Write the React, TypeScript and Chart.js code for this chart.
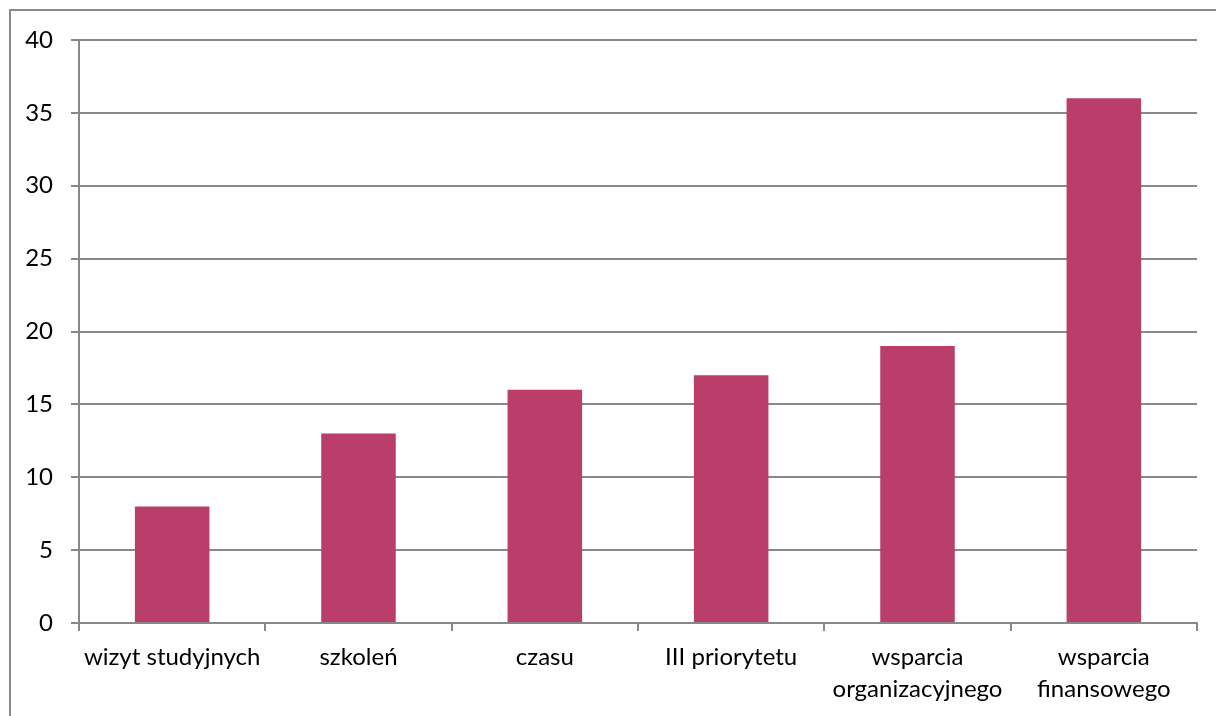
import React, { useEffect, useRef } from "react";
import { Chart, registerables } from "chart.js";

Chart.register(...registerables);

const categories: (string | string[])[] = [
  "wizyt studyjnych",
  "szkoleń",
  "czasu",
  "III priorytetu",
  ["wsparcia", "organizacyjnego"],
  ["wsparcia", "finansowego"],
];
const values = [8, 13, 16, 17, 19, 36];
const yMin = 0;
const yMax = 40;
const yStep = 5;

const BAR = "#BB3E6A";
const GRID = "#888888";
const FONT = "Lato, 'Open Sans', sans-serif";

export default function App() {
  const ref = useRef<HTMLCanvasElement | null>(null);
  useEffect(() => {
    if (!ref.current) return;
    const chart = new Chart(ref.current, {
      type: "bar",
      data: {
        labels: categories,
        datasets: [
          {
            data: values,
            backgroundColor: BAR,
            borderWidth: 0,
            categoryPercentage: 1,
            barPercentage: 0.4,
          },
        ],
      },
      options: {
        animation: false,
        responsive: false,
        maintainAspectRatio: false,
        layout: { padding: { top: 40, right: 19, bottom: 0, left: 0 } },
        plugins: { legend: { display: false }, tooltip: { enabled: false } },
        scales: {
          x: {
            grid: {
              offset: true,
              drawOnChartArea: false,
              drawTicks: true,
              tickLength: 8,
              color: GRID,
              lineWidth: 2,
            },
            border: { display: true, color: GRID, width: 2 },
            ticks: {
              color: "#000",
              font: { family: FONT, size: 24, lineHeight: 1.3 },
              padding: 11,
              maxRotation: 0,
              autoSkip: false,
            },
            afterFit: (s: any) => {
              s.height = 93;
            },
          },
          y: {
            min: yMin,
            max: yMax,
            grid: {
              color: GRID,
              lineWidth: 2,
              drawTicks: true,
              tickLength: 8,
            },
            border: { display: true, color: GRID, width: 2 },
            ticks: {
              stepSize: yStep,
              color: "#000",
              font: { family: FONT, size: 24 },
              padding: 18,
            },
            afterFit: (s: any) => {
              s.width = 79;
            },
          },
        },
      },
    });
    return () => chart.destroy();
  }, []);
  return (
    <div style={{ position: "absolute", left: 0, top: 0, width: 1216, height: 716, overflow: "hidden", background: "#fff" }}>
      <div
        style={{
          position: "absolute",
          left: 9,
          top: 9,
          width: 1400,
          height: 900,
          borderLeft: "2px solid #8a8a8a",
          borderTop: "2px solid #8a8a8a",
        }}
      />
      <canvas ref={ref} width={1216} height={716} style={{ position: "absolute", left: 0, top: 0 }} />
    </div>
  );
}
